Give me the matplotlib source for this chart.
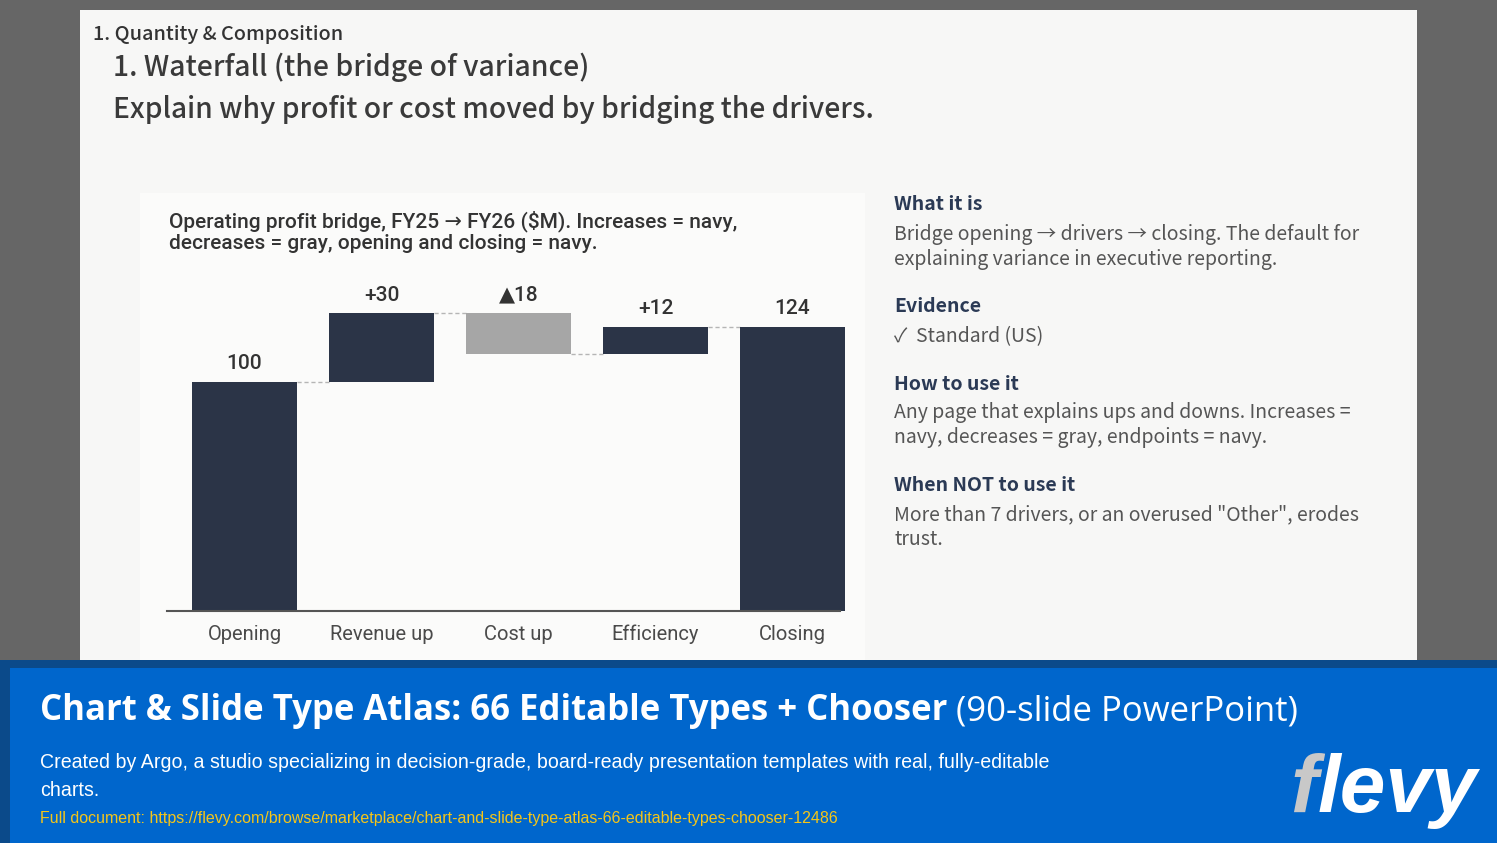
import matplotlib
matplotlib.use("Agg")
import matplotlib.pyplot as plt
from matplotlib.patches import Rectangle

W, H = 1497, 843

# chart data
steps = ["Opening", "Revenue up", "Cost up", "Efficiency", "Closing"]
opening = 100
deltas = [30, -18, 12]

navy = "#2b3447"
gray = "#a6a6a6"
NARROW = ["Roboto", "DejaVu Sans"]
JP = ["Noto Sans CJK JP", "DejaVu Sans"]

fig = plt.figure(figsize=(W / 100, H / 100), dpi=100)
fig.patch.set_facecolor("#666666")


def box(x0, y0, x1, y1, color):
    fig.add_artist(Rectangle((x0 / W, 1 - y1 / H), (x1 - x0) / W, (y1 - y0) / H,
                             transform=fig.transFigure, color=color, lw=0, zorder=0))


def txt(x, y, s, **kw):
    kw.setdefault("va", "center")
    return fig.text(x / W, 1 - y / H, s, **kw)


# slide, chart panel, banner
box(80, 10, 1417, 662, "#f7f7f6")
box(140, 193, 865, 662, "#fbfbfa")
box(0, 660, W, 668, "#0b4a8a")
box(0, 660, 10, H, "#0b4a8a")
box(10, 668, W, H, "#0066cc")

# headings
txt(93, 34, "1. Quantity & Composition", family=JP, fontsize=14.3, fontweight="medium",
    color="#333333")
txt(113, 67, "1. Waterfall (the bridge of variance)", family=JP, fontsize=20.4,
    fontweight="medium", color="#3a3a3a")
txt(113, 109, "Explain why profit or cost moved by bridging the drivers.", family=JP,
    fontsize=20.3, fontweight="medium", color="#3a3a3a")

txt(169, 232, "Operating profit bridge, FY25 \u2192 FY26 ($M). Increases = navy,\n"
    "decreases = gray, opening and closing = navy.", family=NARROW, fontsize=15,
    fontweight="medium", color="#333333", linespacing=1.15)

# waterfall
levels = [opening]
for d in deltas:
    levels.append(levels[-1] + d)
closing = levels[-1]

bottoms = [0]
heights = [opening]
colors = [navy]
labels = [str(opening)]
for i, d in enumerate(deltas):
    bottoms.append(min(levels[i], levels[i + 1]))
    heights.append(abs(d))
    colors.append(navy if d > 0 else gray)
    labels.append(f"+{d}" if d > 0 else f"\u25b2{abs(d)}")
bottoms.append(0)
heights.append(closing)
colors.append(navy)
labels.append(str(closing))

ax = fig.add_axes([167 / W, 1 - 611 / H, (847 - 167) / W, (611 - 290) / H])
ax.set_facecolor("none")
x = list(range(len(steps)))
bw = 0.766
ax.bar(x, heights, bottom=bottoms, width=bw, color=colors, zorder=2)
for i, lev in enumerate(levels):
    ax.plot([i + bw / 2, i + 1 - bw / 2], [lev, lev], ls=(0, (3, 2)), color="#b5b5b5",
            lw=1, zorder=1)
for i in x:
    top = bottoms[i] + heights[i]
    ax.annotate(labels[i], (i, top), xytext=(0, 6), textcoords="offset points",
                ha="center", va="bottom", family=NARROW, fontsize=15,
                fontweight="medium", color="#333333")

ax.set_xlim(-0.566, 4.398)
ax.set_ylim(0, 140)
ax.set_xticks(x)
ax.set_xticklabels(steps, family=NARROW, fontsize=14.5, color="#4a4a4a")
ax.tick_params(axis="x", length=0, pad=10)
ax.set_yticks([])
for s in ["top", "right", "left"]:
    ax.spines[s].set_visible(False)
ax.spines["bottom"].set_color("#555555")
ax.spines["bottom"].set_linewidth(1.5)
ax.spines["bottom"].set_bounds(-0.566, 4.35)
ax.spines["bottom"].set_zorder(3)

# right column
head = dict(family=JP, fontsize=14, color="#2b3a55", fontweight="bold")
body = dict(family=JP, fontsize=14, color="#555555", linespacing=1.2)
txt(894, 205, "What it is", **head)
txt(894, 247, "Bridge opening \u2192 drivers \u2192 closing. The default for\n"
    "explaining variance in executive reporting.", **body)
txt(894, 307, "Evidence", **head)
txt(894, 337, "\u2713  Standard (US)", **body)
txt(894, 384, "How to use it", **head)
txt(894, 425, "Any page that explains ups and downs. Increases =\n"
    "navy, decreases = gray, endpoints = navy.", **body)
txt(894, 485, "When NOT to use it", **head)
txt(894, 527, "More than 7 drivers, or an overused \"Other\", erodes\n"
    "trust.", **body)

# banner
fig.canvas.draw()
r = fig.canvas.get_renderer()
t1 = txt(40, 711, "Chart & Slide Type Atlas: 66 Editable Types + Chooser", family="Open Sans",
         fontsize=25, fontweight="bold", color="white")
bb = t1.get_window_extent(r)
txt(bb.x1 + 9, 711, "(90-slide PowerPoint)", family="Open Sans", fontsize=25, color="white")
txt(40, 776, "Created by Argo, a studio specializing in decision-grade, board-ready presentation "
    "templates with real, fully-editable\ncharts.", family="Liberation Sans", fontsize=14.1,
    color="white", linespacing=1.6)
txt(40, 819, "Full document: https://flevy.com/browse/marketplace/chart-and-slide-type-atlas-66-"
    "editable-types-chooser-12486", family="Liberation Sans", fontsize=11.5, color="#f5c518")

logo = dict(family="Liberation Sans", fontsize=59, fontweight="bold", style="italic",
            va="baseline")
whole = txt(1290, 812, "flevy", alpha=0, **logo)
rest = txt(1290, 812, "levy", alpha=0, **logo)
wb = whole.get_window_extent(r)
rb = rest.get_window_extent(r)
whole.remove()
rest.remove()
txt(1290, 812, "f", color="#c8c8c8", **logo)
txt(wb.x1 - rb.width, 812, "levy", color="white", **logo)

fig.savefig("out.png", dpi=100, facecolor=fig.get_facecolor())
